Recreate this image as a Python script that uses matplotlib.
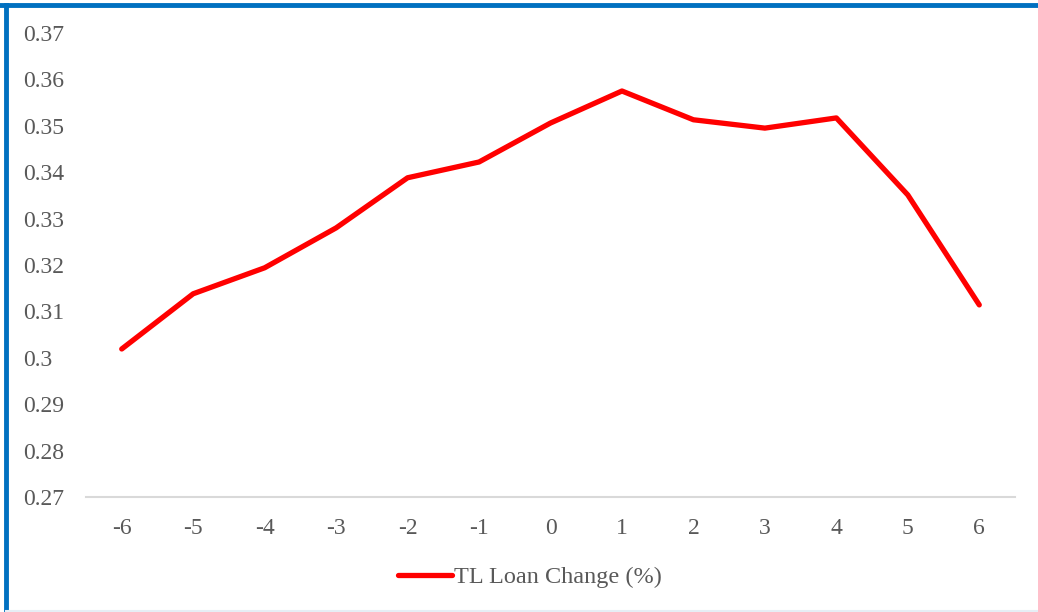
import matplotlib
matplotlib.use('Agg')
import matplotlib.pyplot as plt
from matplotlib.lines import Line2D

categories = ['-6', '-5', '-4', '-3', '-2', '-1', '0', '1', '2', '3', '4', '5', '6']
loan_change = [0.3019, 0.3138, 0.3194, 0.3280, 0.3388, 0.3422, 0.3506,
               0.3575, 0.3513, 0.3495, 0.3517, 0.3351, 0.3114]
y_ticks = [0.27, 0.28, 0.29, 0.30, 0.31, 0.32, 0.33, 0.34, 0.35, 0.36, 0.37]
y_tick_labels = ['0.27', '0.28', '0.29', '0.3', '0.31', '0.32', '0.33',
                 '0.34', '0.35', '0.36', '0.37']

plt.rcParams['font.family'] = ['Liberation Serif', 'DejaVu Serif']
text_color = '#595959'

fig = plt.figure(figsize=(10.38, 6.12), dpi=100)
ax = fig.add_axes([86 / 1038, 1 - 497 / 612, (1015 - 86) / 1038, (497 - 33) / 612])

x = list(range(len(categories)))
ax.plot(x, loan_change, color='#ff0000', linewidth=3.8,
        solid_capstyle='round', solid_joinstyle='round', label='TL Loan Change (%)')

ax.set_xlim(-0.5, len(categories) - 0.5)
ax.set_ylim(0.27, 0.37)
ax.set_xticks(x)
ax.set_xticklabels(categories)
ax.set_yticks(y_ticks)
ax.set_yticklabels(y_tick_labels)

for side in ['top', 'right', 'left']:
    ax.spines[side].set_visible(False)
ax.spines['bottom'].set_color('#d9d9d9')
ax.spines['bottom'].set_linewidth(1.5)
ax.tick_params(axis='both', length=0, labelsize=17, colors=text_color)
ax.tick_params(axis='x', pad=15)
for lbl in ax.get_yticklabels():
    lbl.set_horizontalalignment('left')
ax.yaxis.set_tick_params(pad=45)

leg = fig.legend(loc='center', bbox_to_anchor=(530 / 1038, 1 - 577 / 612), frameon=False,
                 fontsize=17.5, handlelength=2.2, handletextpad=0.1)
for t in leg.get_texts():
    t.set_color(text_color)

# blue frame around the chart
fig.add_artist(Line2D([0, 1], [1 - 5 / 612, 1 - 5 / 612], color='#0070c0', linewidth=3.5))
fig.add_artist(Line2D([6 / 1038, 6 / 1038], [0, 1 - 5 / 612], color='#0070c0', linewidth=3.5))
fig.add_artist(Line2D([6 / 1038, 1], [1 / 612, 1 / 612], color='#e6eef5', linewidth=1.5))

fig.savefig('out.png', dpi=100)
